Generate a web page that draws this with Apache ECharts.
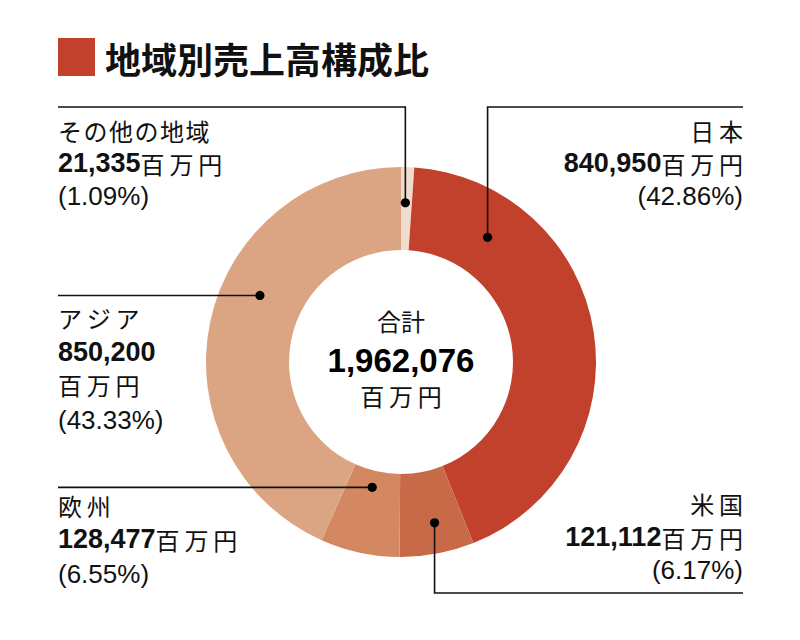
<script src="https://cdn.jsdelivr.net/npm/echarts@6.0.0/dist/echarts.min.js"></script>

<style>
  html, body { margin: 0; padding: 0; background: #fff; }
</style>

<div id="chart" style="width: 800px; height: 640px;"></div>

<script>
  // data, clockwise from 12 o'clock
  const regions = ['その他の地域', '日本', '米国', '欧州', 'アジア'];
  const values = [21335, 840950, 121112, 128477, 850200];
  const percents = ['1.09', '42.86', '6.17', '6.55', '43.33'];
  const totalValue = 1962076;
  const unit = '百万円';

  const colors = ['#efdccc', '#c1412c', '#c86a48', '#d38862', '#dba584'];

  const NUM_FONT = '"Liberation Sans", Arial, sans-serif';
  const JP_FONT = '"Noto Sans CJK JP", sans-serif';

  const fmt = (v) => v.toLocaleString('en-US');

  const ready = (fn) => {
    if (document.readyState !== "loading") {
      fn();
    } else {
      document.addEventListener("DOMContentLoaded", fn);
    }
  };

  ready(() => {
    const chartDom = document.getElementById("chart");
    const myChart = echarts.init(chartDom, null, { renderer: "svg" });

    myChart.setOption({
      animation: false,
      series: [{
        type: 'pie',
        center: [401, 362],
        radius: [112, 195],
        startAngle: 90,
        clockwise: true,
        silent: true,
        label: { show: false },
        labelLine: { show: false },
        itemStyle: { borderWidth: 0 },
        data: regions.map((name, i) => ({
          name,
          value: values[i],
          itemStyle: { color: colors[i] }
        }))
      }]
    });

    // where each dot sits inside its slice (t along the arc, k across the ring)
    const anchors = [
      { t: 0.40, k: 0.57 },
      { t: 0.20, k: 0.48 },
      { t: 0.45, k: 0.63 },
      { t: 0.53, k: 0.20 },
      { t: 0.585, k: 0.53 }
    ];

    const seriesData = myChart.getModel().getSeriesByIndex(0).getData();
    const dots = anchors.map((a, i) => {
      const l = seriesData.getItemLayout(i);
      const ang = l.startAngle + a.t * (l.endAngle - l.startAngle);
      const rr = l.r0 + a.k * (l.r - l.r0);
      return [l.cx + rr * Math.cos(ang), l.cy + rr * Math.sin(ang)];
    });

    const LEFT = 58, RIGHT = 743, TOP_Y = 107, BOTTOM_Y = 593;
    const paths = [
      [dots[0], [dots[0][0], TOP_Y], [LEFT, TOP_Y]],
      [dots[1], [dots[1][0], TOP_Y], [RIGHT, TOP_Y]],
      [dots[2], [dots[2][0], BOTTOM_Y], [RIGHT, BOTTOM_Y]],
      [dots[3], [LEFT, dots[3][1]]],
      [dots[4], [LEFT, dots[4][1]]]
    ];

    const graphic = [];

    paths.forEach((pts) => {
      graphic.push({
        type: 'polyline',
        silent: true,
        z: 100,
        shape: { points: pts },
        style: { stroke: '#111', lineWidth: 1.6, fill: null }
      });
    });
    dots.forEach((d) => {
      graphic.push({
        type: 'circle',
        silent: true,
        z: 101,
        shape: { cx: d[0], cy: d[1], r: 4.6 },
        style: { fill: '#000' }
      });
    });

    const richStyles = {
      n: { fontFamily: NUM_FONT, fontWeight: 'bold', fontSize: 27, fill: '#111' },
      u: { fontFamily: JP_FONT, fontSize: 24, fill: '#111' },
      j: { fontFamily: JP_FONT, fontSize: 24, fill: '#111' },
      p: { fontFamily: NUM_FONT, fontSize: 26, fill: '#111' }
    };
    const spaced = (s, sp) => s.split('').join(sp || '\u2009');

    const addText = (x, y, text, align) => {
      graphic.push({
        type: 'text',
        silent: true,
        z: 100,
        x, y,
        style: {
          text,
          rich: richStyles,
          align,
          verticalAlign: 'middle'
        }
      });
    };

    const blockLines = (i, split) => {
      const name = `{j|${spaced(regions[i], regions[i].length > 3 ? '\u200a' : '\u2009')}}`;
      const num = `{n|${fmt(values[i])}}`;
      const u = `{u|${spaced(unit)}}`;
      const p = `{p|(${percents[i]}%)}`;
      return split ? [name, num, u, p] : [name, num + u, p];
    };

    const blocks = [
      { i: 0, x: LEFT, ys: [130, 163, 196], align: 'left' },
      { i: 1, x: RIGHT, ys: [130, 163, 196], align: 'right' },
      { i: 2, x: RIGHT, ys: [503, 537, 570], align: 'right' },
      { i: 3, x: LEFT, ys: [505, 539, 574], align: 'left' },
      { i: 4, x: LEFT, ys: [317, 352, 384, 420], align: 'left', split: true }
    ];
    blocks.forEach((b) => {
      blockLines(b.i, b.split).forEach((line, k) => addText(b.x, b.ys[k], line, b.align));
    });

    // centre total
    addText(401, 320, `{j|合計}`, 'center');
    graphic.push({
      type: 'text', silent: true, z: 100, x: 401, y: 360,
      style: {
        text: fmt(totalValue), align: 'center', verticalAlign: 'middle',
        fontFamily: NUM_FONT, fontWeight: 'bold', fontSize: 33, fill: '#000'
      }
    });
    addText(401, 395, `{u|${spaced(unit)}}`, 'center');

    // title
    graphic.push({
      type: 'rect', silent: true, z: 100,
      shape: { x: 58, y: 38, width: 37, height: 38 },
      style: { fill: '#c1412c' }
    });
    graphic.push({
      type: 'text', silent: true, z: 100, x: 105, y: 58,
      style: {
        text: '地域別売上高構成比', verticalAlign: 'middle',
        fontFamily: JP_FONT, fontWeight: 'bold', fontSize: 36, fill: '#111'
      }
    });

    myChart.setOption({ graphic });
  });
</script>
